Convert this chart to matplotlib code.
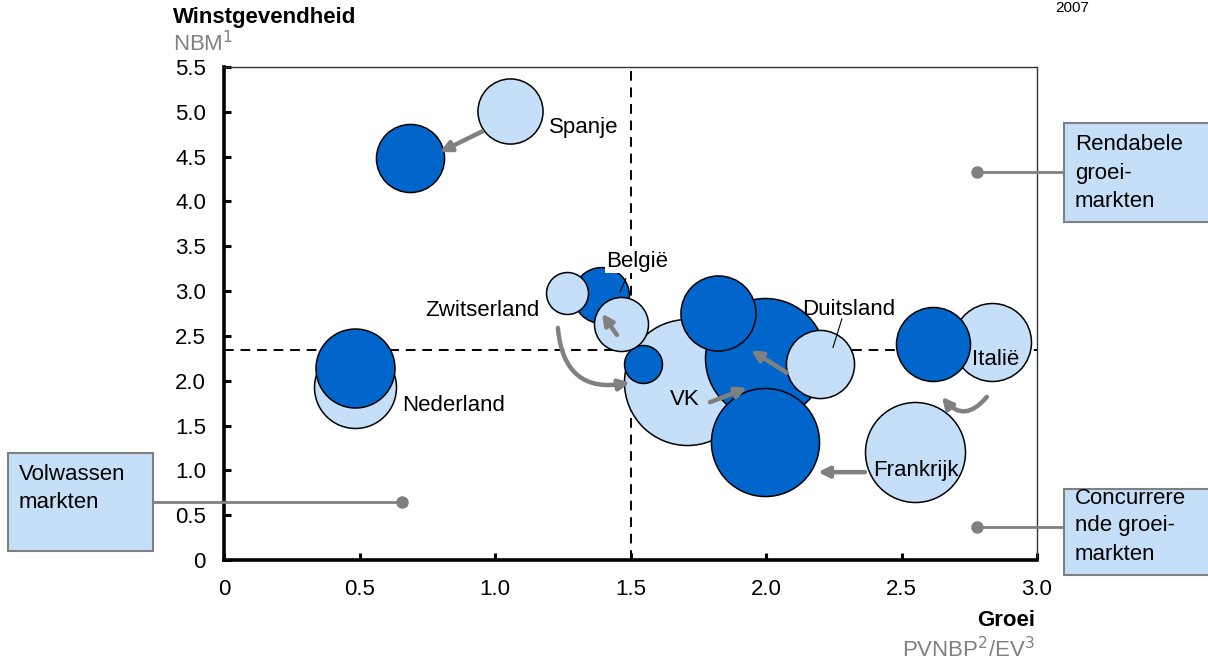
import matplotlib
matplotlib.use("Agg")
import matplotlib.pyplot as plt
from matplotlib.patches import Rectangle
import numpy as np

plt.rcParams['font.family'] = ['Liberation Sans', 'DejaVu Sans']

# ---- data ----
countries = ['Spanje', 'Nederland', 'Zwitserland', 'België', 'VK', 'Duitsland', 'Frankrijk', 'Italië']
growth_old = [1.055, 0.483, 1.266, 1.465, 1.708, 2.199, 2.550, 2.834]
profit_old = [5.01, 1.93, 2.98, 2.63, 1.99, 2.19, 1.21, 2.43]
volume_old = [10.6, 16.8, 4.4, 7.3, 39.7, 11.6, 25.0, 15.2]
growth_new = [0.686, 0.483, 1.546, 1.391, 1.996, 1.823, 1.996, 2.616]
profit_new = [4.49, 2.14, 2.19, 2.96, 2.25, 2.76, 1.32, 2.41]
volume_new = [11.6, 15.6, 3.6, 7.8, 36.0, 14.1, 29.2, 13.7]
x_ticks = [0, 0.5, 1.0, 1.5, 2.0, 2.5, 3.0]
x_ticklabels = ['0', '0.5', '1.0', '1.5', '2.0', '2.5', '3.0']
y_ticks = [0, 0.5, 1.0, 1.5, 2.0, 2.5, 3.0, 3.5, 4.0, 4.5, 5.0, 5.5]
y_ticklabels = ['0', '0.5', '1.0', '1.5', '2.0', '2.5', '3.0', '3.5', '4.0', '4.5', '5.0', '5.5']
growth_threshold = 1.5
profit_threshold = 2.34

LIGHT = '#C6DFF8'
DARK = '#0066CC'
GRAY = '#808080'
FS = 16

fig = plt.figure(figsize=(12.08, 6.67), dpi=100)
ax = fig.add_axes([224/1208, 1-560/667, (1037-224)/1208, (560-67)/667])
ax.set_xlim(0, 3.0)
ax.set_ylim(0, 5.5)

SIZE_K = 207.4  # points^2 per volume unit

# draw order: (country, period)
order = [('Spanje', 'old'), ('Nederland', 'old'), ('Italië', 'old'), ('Frankrijk', 'old'), ('VK', 'old'),
         ('Spanje', 'new'), ('Nederland', 'new'), ('Italië', 'new'), ('VK', 'new'), ('Duitsland', 'new'),
         ('Frankrijk', 'new'), ('Zwitserland', 'new'), ('België', 'new'),
         ('Duitsland', 'old'), ('Zwitserland', 'old'), ('België', 'old')]
for z, (c, p) in enumerate(order):
    i = countries.index(c)
    if p == 'old':
        x, y, v, col = growth_old[i], profit_old[i], volume_old[i], LIGHT
    else:
        x, y, v, col = growth_new[i], profit_new[i], volume_new[i], DARK
    ax.scatter([x], [y], s=v * SIZE_K, color=col, edgecolor='black', linewidth=1.1, zorder=5 + z * 0.1)

# dashed quadrant lines
ax.axvline(growth_threshold, color='black', lw=1.4, ls=(0, (5, 3.5)), zorder=2)
ax.axhline(profit_threshold, color='black', lw=1.4, ls=(0, (5, 3.5)), zorder=2)

# arrows
ap = dict(arrowstyle='-|>', color=GRAY, lw=3.2, mutation_scale=16, shrinkA=0, shrinkB=0)
arrows = [((0.952, 4.78), (0.797, 4.55), 0.0),
          ((1.450, 2.51), (1.395, 2.75), 0.0),
          ((1.232, 2.59), (1.498, 1.98), 0.55),
          ((1.793, 1.76), (1.930, 1.92), 0.0),
          ((2.077, 2.09), (1.945, 2.34), 0.0),
          ((2.365, 0.98), (2.192, 0.98), 0.0),
          ((2.815, 1.82), (2.649, 1.82), -0.6)]
for tail, head, rad in arrows:
    props = dict(ap)
    props['connectionstyle'] = f'arc3,rad={rad}'
    ax.annotate('', xy=head, xytext=tail, arrowprops=props, zorder=20)

# labels
ax.text(1.199, 4.83, 'Spanje', fontsize=FS, va='center', ha='left', zorder=30)
ax.text(1.166, 2.78, 'Zwitserland', fontsize=FS, va='center', ha='right', zorder=30)
ax.text(1.410, 3.33, 'België', fontsize=FS, va='center', ha='left', zorder=30,
        bbox=dict(facecolor='white', edgecolor='none', pad=0.5))
ax.plot([1.483, 1.461], [3.14, 2.99], color='black', lw=0.8, zorder=30)
ax.text(0.657, 1.72, 'Nederland', fontsize=FS, va='center', ha='left', zorder=30)
ax.text(1.646, 1.79, 'VK', fontsize=FS, va='center', ha='left', zorder=30)
ax.text(2.133, 2.79, 'Duitsland', fontsize=FS, va='center', ha='left', zorder=30)
ax.plot([2.280, 2.247], [2.69, 2.37], color='black', lw=0.8, zorder=30)
ax.text(2.760, 2.24, 'Italië', fontsize=FS, va='center', ha='left', zorder=30)
ax.text(2.395, 1.00, 'Frankrijk', fontsize=FS, va='center', ha='left', zorder=30)

# axes styling
ax.set_xticks(x_ticks)
ax.set_xticklabels(x_ticklabels)
ax.set_yticks(y_ticks)
ax.set_yticklabels(y_ticklabels)
ax.tick_params(axis='both', direction='in', length=5, width=2.2, labelsize=FS, color='black')
ax.tick_params(axis='x', pad=14)
ax.tick_params(axis='y', pad=13)
for s in ['left', 'bottom']:
    ax.spines[s].set_linewidth(2.6)
for s in ['top', 'right']:
    ax.spines[s].set_linewidth(1.0)
    ax.spines[s].set_color('#333333')

# titles
fig.text(173/1208, 1-17/667, 'Winstgevendheid', fontsize=FS, fontweight='bold', va='center', ha='left')
fig.text(173/1208, 1-44/667, 'NBM$^1$', fontsize=FS, color=GRAY, va='center', ha='left')
fig.text(1072/1208, 1-8/667, '2007', fontsize=11, va='center', ha='center')
fig.text(1035/1208, 1-620/667, 'Groei', fontsize=FS, fontweight='bold', va='center', ha='right')
fig.text(1035/1208, 1-650/667, 'PVNBP$^2$/EV$^3$', fontsize=FS, color=GRAY, va='center', ha='right')

# side boxes
def px(x, y):
    return x / 1208, 1 - y / 667

def box(x0, y0, x1, y1, lines, tx, ty0, dy):
    r = Rectangle(px(x0, y1), (x1 - x0) / 1208, (y1 - y0) / 667, transform=fig.transFigure,
                  facecolor=LIGHT, edgecolor=GRAY, lw=1.5, zorder=40)
    fig.add_artist(r)
    for k, t in enumerate(lines):
        fig.text(*px(tx, ty0 + k * dy), t, fontsize=FS, va='center', ha='left', zorder=41)

def connector(x0, x1, y):
    fig.add_artist(plt.Line2D([x0 / 1208, x1 / 1208], [1 - y / 667] * 2, transform=fig.transFigure,
                              color=GRAY, lw=2, zorder=35))
    fig.add_artist(plt.Line2D([x1 / 1208], [1 - y / 667], transform=fig.transFigure, marker='o',
                              markersize=8, color=GRAY, zorder=35))

connector(1064, 977, 172)
box(1064, 123, 1212, 222, ['Rendabele', 'groei-', 'markten'], 1075, 145, 28)
connector(1064, 977, 527)
box(1064, 489, 1212, 575, ['Concurrere', 'nde groei-', 'markten'], 1075, 498, 28)
connector(153, 402, 502)
box(8, 453, 153, 551, ['Volwassen', 'markten'], 19, 475, 28)

fig.savefig('out.png', dpi=100)
